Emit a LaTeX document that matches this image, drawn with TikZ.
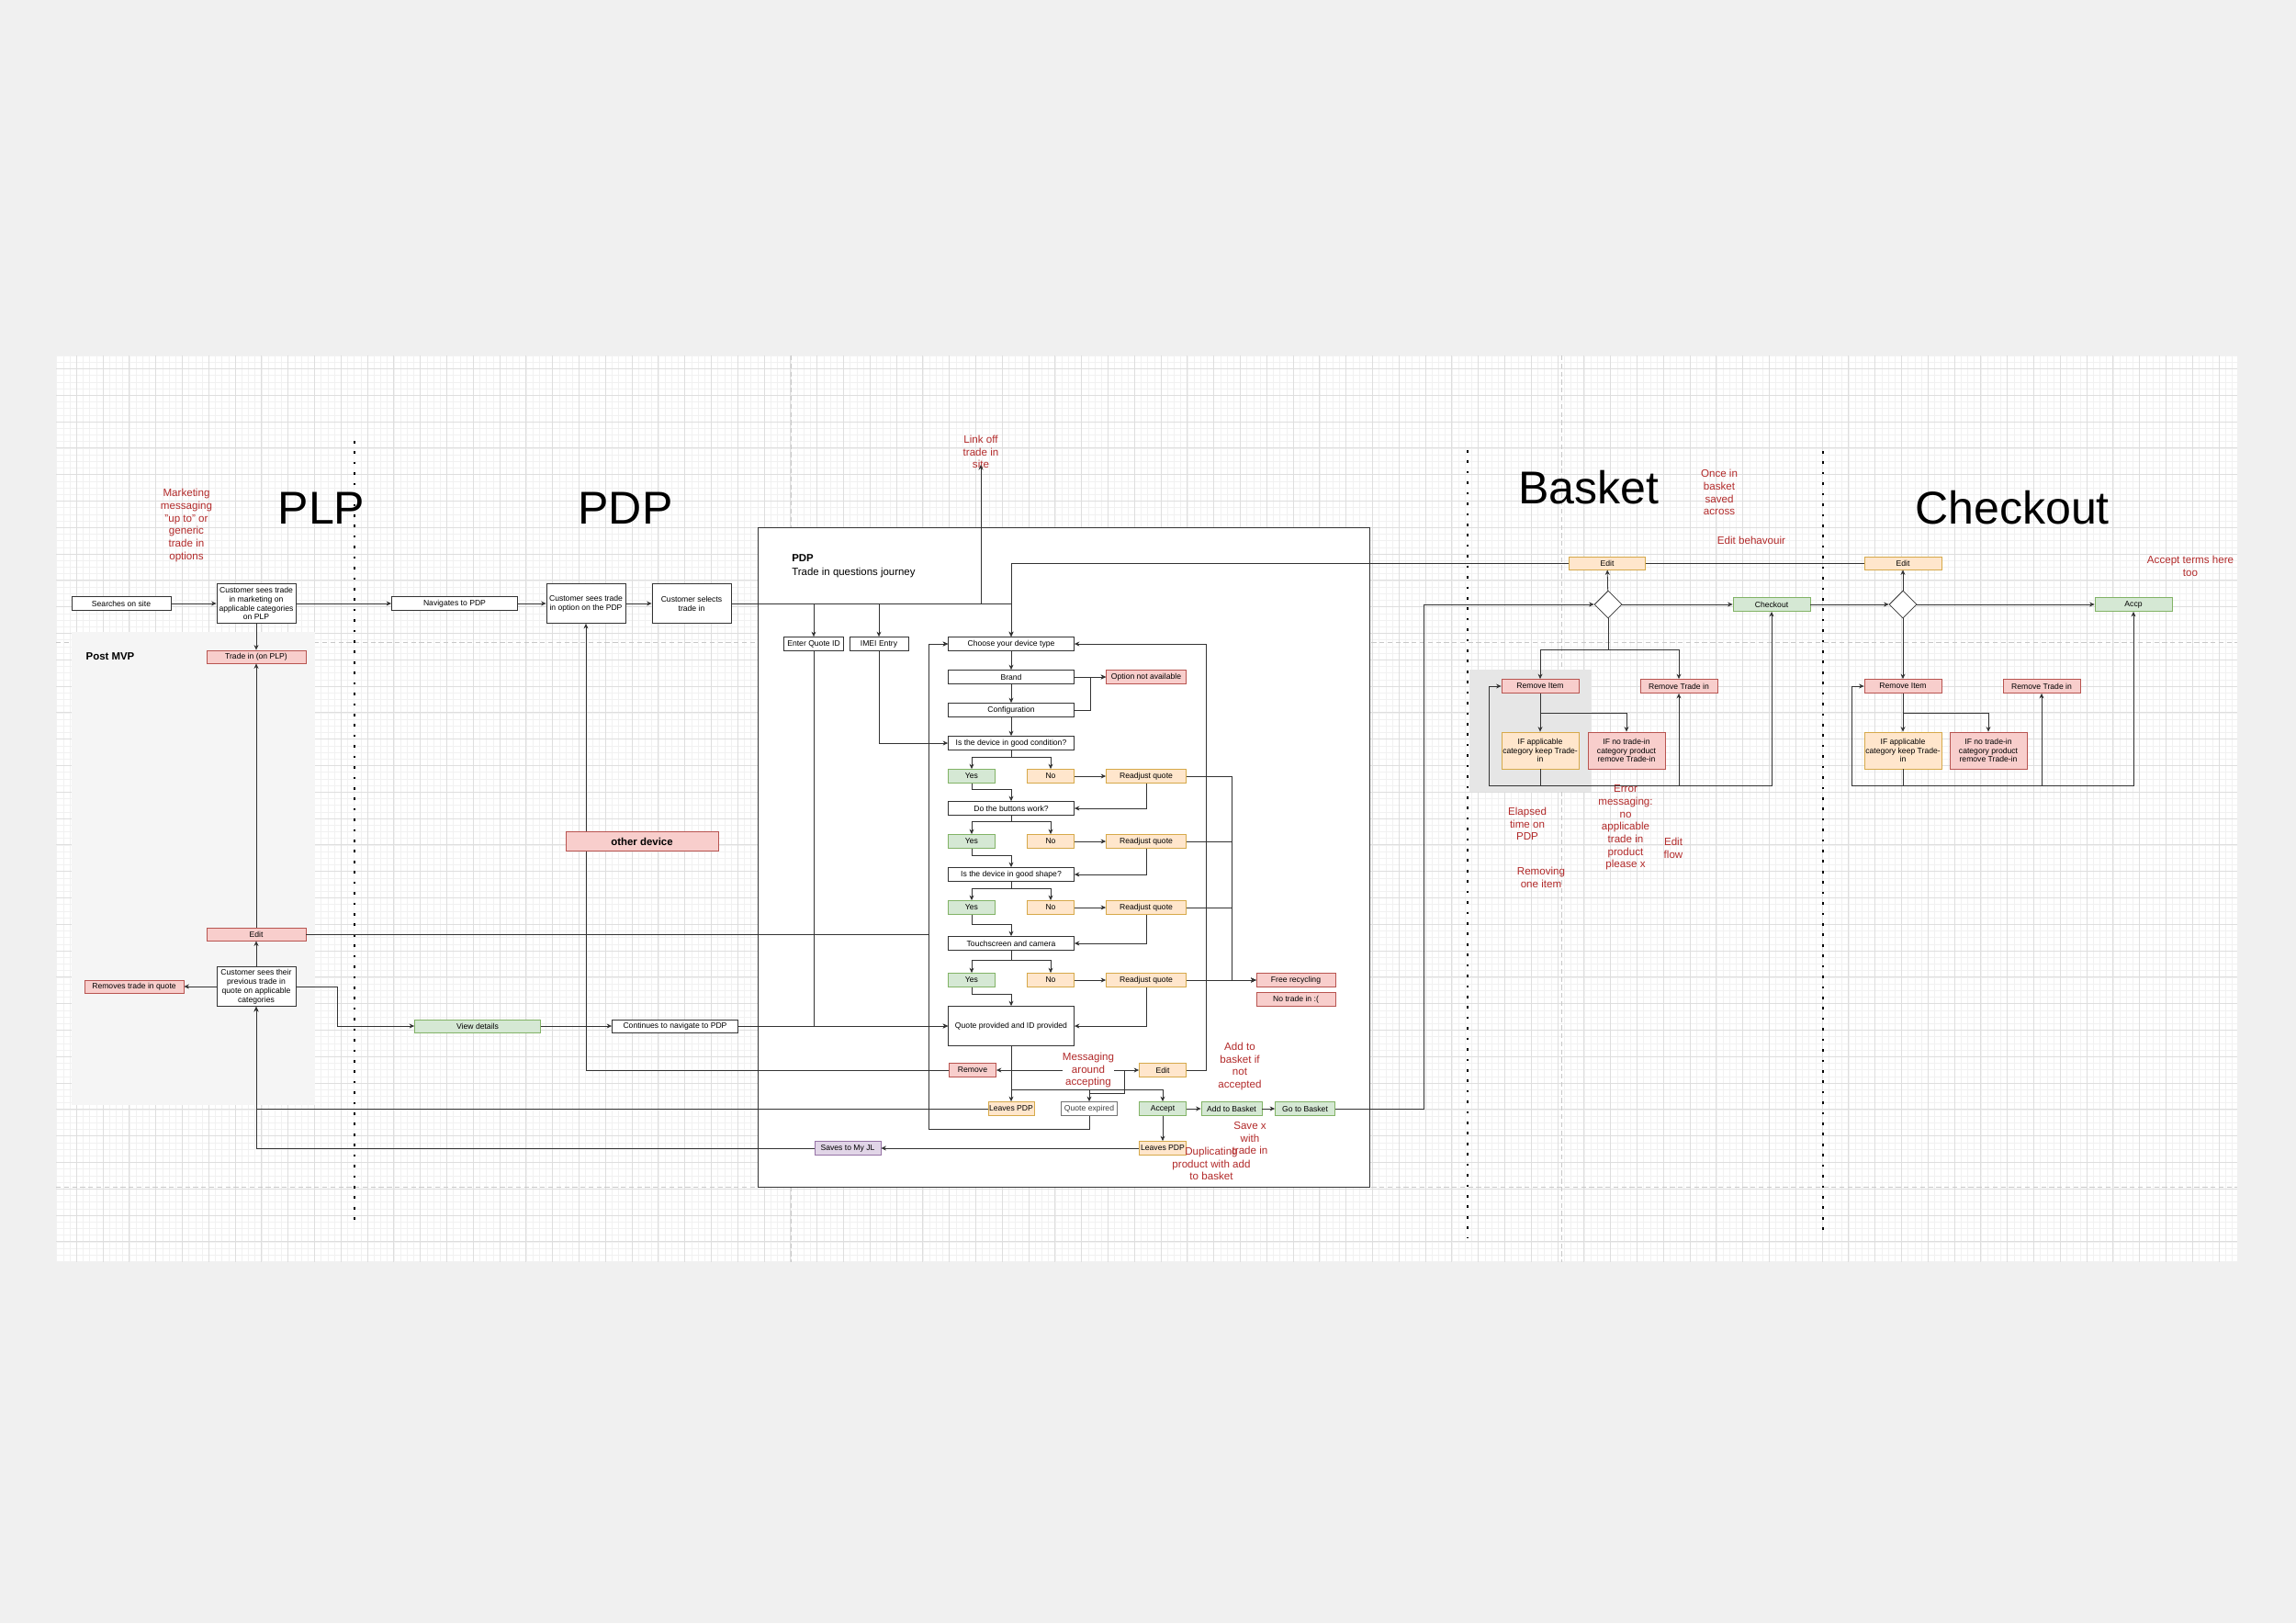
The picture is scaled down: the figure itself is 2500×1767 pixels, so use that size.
\documentclass[tikz,border=0pt]{standalone}
\usepackage{fontspec}
\setmainfont{Liberation Sans}
\usepackage{tikz}
\usetikzlibrary{arrows.meta,calc,shapes.geometric}
\definecolor{bgout}{HTML}{F0F0F0}
\definecolor{gridmaj}{HTML}{DEDEDE}
\definecolor{gridmin}{HTML}{F1F1F1}
\definecolor{pagec}{HTML}{C8C8C8}
\definecolor{tiline}{HTML}{333333}
\definecolor{notered}{HTML}{B22A2A}
\definecolor{redfill}{HTML}{F8CECC}
\definecolor{redline}{HTML}{B85450}
\definecolor{orfill}{HTML}{FFE6CC}
\definecolor{orline}{HTML}{D6A94A}
\definecolor{grfill}{HTML}{D5E8D4}
\definecolor{grline}{HTML}{82B366}
\definecolor{pufill}{HTML}{E1D5E7}
\definecolor{puline}{HTML}{9673A6}
\definecolor{mvpgray}{HTML}{F5F5F5}
\definecolor{areagray}{HTML}{E6E6E6}
\newdimen\dpx
\dpx=0.2mm
\tikzset{
  tibox/.style={draw=tiline,line width=0.45pt,fill=white,align=center,inner sep=0pt,
                minimum width=86*\dpx,minimum height=15*\dpx,font=\fontsize{4.9}{5.6}\selectfont},
  tired/.style={tibox,draw=redline,fill=redfill},
  tiorange/.style={tibox,draw=orline,fill=orfill},
  tigreen/.style={tibox,draw=grline,fill=grfill},
  tipurple/.style={tibox,draw=puline,fill=pufill},
  tigray/.style={tibox,draw=black!55,text=black!75},
  tichoice/.style={diamond,draw=tiline,line width=0.45pt,fill=white,inner sep=0pt,
                   minimum width=30*\dpx,minimum height=30*\dpx},
  tinote/.style={text=notered,align=center,inner sep=0pt,font=\fontsize{6.6}{7.8}\selectfont},
  tititle/.style={inner sep=0pt,font=\fontsize{28.5}{30}\selectfont},
  flow/.style={-{Stealth[length=1.1mm,width=1mm]},line width=0.45pt,draw=tiline},
  wire/.style={line width=0.45pt,draw=tiline},
  pageline/.style={draw=pagec,line width=0.5pt,dash pattern=on 3pt off 2pt},
  lanedots/.style={draw=black,line width=1.5pt,dash pattern=on 1.5pt off 5pt}
}

\begin{document}
\begin{tikzpicture}[x=0.2mm,y=-0.2mm]
  \fill[bgout] (0,0) rectangle (2500,1767);
  \useasboundingbox (0,0) rectangle (2500,1767);
  \fill[white] (61,387) rectangle (2436,1374);
  % grid paper
  \begin{scope}
    \clip (61,387) rectangle (2436,1374);
    \foreach \gi in {-48,...,283} \draw[gridmin,line width=0.3pt] ({400+7.2*\gi},387) -- ++(0,987);
    \foreach \gi in {-30,...,136} \draw[gridmin,line width=0.3pt] (61,{603+7.2*\gi}) -- ++(2375,0);
    \foreach \gi in {-12,...,71} \draw[gridmaj,line width=0.4pt] ({400+28.8*\gi},387) -- ++(0,987);
    \foreach \gi in {-8,...,27} \draw[gridmaj,line width=0.4pt] (61,{603+28.8*\gi}) -- ++(2375,0);
  \end{scope}
  \draw[pageline] (61,699) -- (2436,699);
  \draw[pageline] (61,1292) -- (2436,1292);
  \draw[pageline] (861,387) -- (861,1374);
  \draw[pageline] (1700,387) -- (1700,1374);
  \fill[mvpgray] (78,688) rectangle (343,1203);
  \fill[areagray] (1600,729) rectangle (1733,862);
  \draw[lanedots] (386,480) -- (386,1336);
  \draw[lanedots] (1598,490) -- (1598,1347);
  \draw[lanedots] (1985,491) -- (1985,1347);

  % lane titles and notes
  \node[tititle] (plptitle) at (350,553) {PLP};
  \node[tititle] (pdptitle) at (681,553) {PDP};
  \node[tititle] (baskettitle) at (1730,531) {Basket};
  \node[tititle] (checkouttitle) at (2191,553) {Checkout};
  \node[tinote] (marketing) at (203,572) {Marketing\\messaging\\"up to" or\\generic\\trade in\\options};
  \node[tinote] (link) at (1068,492) {Link off\\trade in\\site};
  \coordinate (linktip) at (1068,506);
  \node[inner sep=0pt,font=\bfseries\fontsize{6.5}{7.5}\selectfont] (mvplabel) at (120,715) {Post MVP};

  % PLP
  \node[tibox,minimum width=108*\dpx] (search) at (132,657) {Searches on site};
  \node[tibox,minimum height=43*\dpx] (plpsee) at (279,657) {Customer sees trade\\in marketing on\\applicable categories\\on PLP};
  \node[tired,minimum width=108*\dpx,minimum height=14*\dpx] (plptrade) at (279,715) {Trade in (on PLP)};
  \node[tired,minimum width=108*\dpx,minimum height=14*\dpx] (mvpedit) at (279,1017) {Edit};
  \node[tibox,minimum height=43*\dpx] (prevquote) at (279,1074) {Customer sees their\\previous trade in\\quote on applicable\\categories};
  \node[tired,minimum width=108*\dpx,minimum height=14*\dpx] (removeq) at (146,1074) {Removes trade in quote};

  % PDP
  \node[tibox,minimum width=137*\dpx] (navpdp) at (495,657) {Navigates to PDP};
  \node[tibox,minimum height=43*\dpx] (pdpsee) at (638,657) {Customer sees trade\\in option on the PDP};
  \node[tibox,minimum height=43*\dpx] (select) at (753,657) {Customer selects\\trade in};
  \node[tigreen,minimum width=137*\dpx,minimum height=14*\dpx] (details) at (520,1117) {View details};
  \node[tibox,minimum width=137*\dpx,minimum height=14*\dpx] (contnav) at (735,1117) {Continues to navigate to PDP};

  % trade in questions journey
  \node[wire,draw,fill=white,inner sep=0pt,minimum width=666*\dpx,minimum height=718*\dpx] (journey) at (1158,933) {};
  \node[anchor=west,align=left,inner sep=0pt,font=\fontsize{6.5}{8.5}\selectfont] (journeyhead) at (862,616) {\textbf{PDP}\\Trade in questions journey};
  \node[tibox,minimum width=65*\dpx] (quoteid) at (886,701) {Enter Quote ID};
  \node[tibox,minimum width=64*\dpx] (imei) at (957,701) {IMEI Entry};
  \node[tibox,minimum width=137*\dpx] (devtype) at (1101,701) {Choose your device type};
  \node[tibox,minimum width=137*\dpx] (brand) at (1101,737) {Brand};
  \node[tired,minimum width=87*\dpx] (noopt) at (1248,737) {Option not available};
  \node[tibox,minimum width=137*\dpx] (config) at (1101,773) {Configuration};
  \node[tibox,minimum width=137*\dpx] (qcond) at (1101,809) {Is the device in good condition?};
  \node[tigreen,minimum width=51*\dpx] (yes1) at (1058,845) {Yes};
  \node[tiorange,minimum width=51*\dpx] (no1) at (1144,845) {No};
  \node[tiorange,minimum width=87*\dpx] (rq1) at (1248,845) {Readjust quote};
  \node[tibox,minimum width=137*\dpx] (qbutton) at (1101,880) {Do the buttons work?};
  \node[tigreen,minimum width=51*\dpx] (yes2) at (1058,916) {Yes};
  \node[tiorange,minimum width=51*\dpx] (no2) at (1144,916) {No};
  \node[tiorange,minimum width=87*\dpx] (rq2) at (1248,916) {Readjust quote};
  \node[tibox,minimum width=137*\dpx] (qshape) at (1101,952) {Is the device in good shape?};
  \node[tigreen,minimum width=51*\dpx] (yes3) at (1058,988) {Yes};
  \node[tiorange,minimum width=51*\dpx] (no3) at (1144,988) {No};
  \node[tiorange,minimum width=87*\dpx] (rq3) at (1248,988) {Readjust quote};
  \node[tibox,minimum width=137*\dpx] (qtouch) at (1101,1027) {Touchscreen and camera};
  \node[tigreen,minimum width=51*\dpx] (yes4) at (1058,1067) {Yes};
  \node[tiorange,minimum width=51*\dpx] (no4) at (1144,1067) {No};
  \node[tiorange,minimum width=87*\dpx] (rq4) at (1248,1067) {Readjust quote};
  \node[tired] (free) at (1411,1067) {Free recycling};
  \node[tired] (notrade) at (1411,1088) {No trade in :(};
  \node[tibox,minimum width=137*\dpx,minimum height=43*\dpx] (qprov) at (1101,1117) {Quote provided and ID provided};
  \node[tired,minimum width=51*\dpx] (remove) at (1059,1165) {Remove};
  \node[tiorange,minimum width=51*\dpx] (pedit) at (1266,1165) {Edit};
  \node[tiorange,minimum width=50*\dpx] (leave1) at (1101,1207) {Leaves PDP};
  \node[tigray,minimum width=61*\dpx] (expired) at (1186,1207) {Quote expired};
  \node[tigreen,minimum width=51*\dpx] (accept) at (1266,1207) {Accept};
  \node[tigreen,minimum width=66*\dpx] (addbasket) at (1341,1207) {Add to Basket};
  \node[tigreen,minimum width=65*\dpx] (gobasket) at (1421,1207) {Go to Basket};
  \node[tiorange,minimum width=51*\dpx] (leave2) at (1266,1250) {Leaves PDP};
  \node[tipurple,minimum width=72*\dpx] (saves) at (923,1250) {Saves to My JL};
  \node[tinote] (ifnot) at (1350,1161) {Add to\\basket if\\not\\accepted};
  \node[tinote] (savex) at (1361,1239) {Save x\\with\\trade in};
  \node[tinote] (duplicate) at (1319,1267) {Duplicating\\product with add\\to basket};

  % basket
  \node[tiorange,minimum width=83*\dpx,minimum height=14*\dpx] (bedit) at (1750,613) {Edit};
  \node[tichoice] (bdia) at (1751,658) {};
  \node[tigreen,minimum width=84*\dpx] (bcheck) at (1929,658) {Checkout};
  \node[tired,minimum width=84*\dpx] (bremitem) at (1677,747) {Remove Item};
  \node[tired,minimum width=84*\dpx] (bremtrade) at (1828,747) {Remove Trade in};
  \node[tiorange,minimum width=84*\dpx,minimum height=40*\dpx] (bkeep) at (1677,817) {IF applicable\\category keep Trade-\\in};
  \node[tired,minimum width=84*\dpx,minimum height=40*\dpx] (bnotrade) at (1771,817) {IF no trade-in\\category product\\remove Trade-in};
  \node[tinote] (onceinbasket) at (1872,536) {Once in\\basket\\saved\\across};
  \node[tinote] (editbehav) at (1907,588) {Edit behavouir};
  \node[tinote] (elapsed) at (1663,897) {Elapsed\\time on\\PDP};
  \node[tinote] (removing) at (1678,955) {Removing\\one item};
  \node[tinote] (errormsg) at (1770,901) {Error\\messaging:\\no\\applicable\\trade in\\product\\please x};
  \node[tinote] (editflow) at (1822,923) {Edit\\flow};

  % checkout
  \node[tiorange,minimum width=84*\dpx,minimum height=14*\dpx] (cedit) at (2072,613) {Edit};
  \node[tichoice] (cdia) at (2072,658) {};
  \node[tigreen,minimum width=84*\dpx] (caccp) at (2323,658) {Accp};
  \node[tired,minimum width=84*\dpx] (cremitem) at (2072,747) {Remove Item};
  \node[tired,minimum width=84*\dpx] (cremtrade) at (2223,747) {Remove Trade in};
  \node[tiorange,minimum width=84*\dpx,minimum height=40*\dpx] (ckeep) at (2072,817) {IF applicable\\category keep Trade-\\in};
  \node[tired,minimum width=84*\dpx,minimum height=40*\dpx] (cnotrade) at (2165,817) {IF no trade-in\\category product\\remove Trade-in};
  \node[tinote] (acceptterms) at (2385,616) {Accept terms here\\too};

  % PLP and PDP flow
  \draw[flow] (search) -- (plpsee);
  \draw[flow] (plpsee) -- (navpdp);
  \draw[flow] (plpsee) -- (plptrade);
  \draw[flow] (prevquote) -- (mvpedit);
  \draw[flow] (mvpedit) -- (plptrade);
  \draw[flow] (prevquote) -- (removeq);
  \draw[flow] (prevquote.east) -- (367,1074) |- (details.west);
  \draw[flow] (details) -- (contnav);
  \draw[flow] (contnav) -- (qprov);
  \draw[flow] (navpdp) -- (pdpsee);
  \draw[flow] (pdpsee) -- (select);
  \draw[flow] (select.east) -| (linktip);
  \draw[flow] (select.east) -| (quoteid.north);
  \draw[flow] (select.east) -| (imei.north);
  \draw[flow] (select.east) -| (devtype.north);
  \draw[flow] (quoteid.south) |- (qprov.west);
  \draw[flow] (imei.south) |- (qcond.west);
  \draw[flow] (mvpedit.east) -- (1011,1017) |- (devtype.west);
  \draw[flow] (remove.west) -| (pdpsee.south);
  \node[tired,minimum width=166*\dpx,minimum height=21*\dpx,font=\bfseries\fontsize{6.5}{7.5}\selectfont] (otherdev) at (699,916) {other device};

  % questions
  \draw[flow] (devtype) -- (brand);
  \draw[flow] (brand) -- (config);
  \draw[flow] (config) -- (qcond);
  \draw[flow] (brand) -- (noopt);
  \draw[flow] (config.east) -- (1187,773) |- (noopt.west);
  \draw[flow] (qcond.south) -- ++(0,7) -| (yes1.north);
  \draw[flow] (qcond.south) -- ++(0,7) -| (no1.north);
  \draw[flow] (yes1.south) -- ++(0,6) -| (qbutton.north);
  \draw[flow] (qbutton.south) -- ++(0,6) -| (yes2.north);
  \draw[flow] (qbutton.south) -- ++(0,6) -| (no2.north);
  \draw[flow] (yes2.south) -- ++(0,7) -| (qshape.north);
  \draw[flow] (qshape.south) -- ++(0,7) -| (yes3.north);
  \draw[flow] (qshape.south) -- ++(0,7) -| (no3.north);
  \draw[flow] (yes3.south) -- ++(0,10) -| (qtouch.north);
  \draw[flow] (qtouch.south) -- ++(0,10) -| (yes4.north);
  \draw[flow] (qtouch.south) -- ++(0,10) -| (no4.north);
  \draw[flow] (yes4.south) -- ++(0,7) -| (qprov.north);
  \draw[flow] (no1) -- (rq1);
  \draw[flow] (no2) -- (rq2);
  \draw[flow] (no3) -- (rq3);
  \draw[flow] (no4) -- (rq4);
  \draw[flow] (rq1.south) |- (qbutton.east);
  \draw[flow] (rq2.south) |- (qshape.east);
  \draw[flow] (rq3.south) |- (qtouch.east);
  \draw[flow] (rq4.south) |- (qprov.east);
  \draw[flow] (rq1.east) -- (1341,845) |- (free.west);
  \draw[flow] (rq2.east) -- (1341,916) |- (free.west);
  \draw[flow] (rq3.east) -- (1341,988) |- (free.west);
  \draw[flow] (rq4) -- (free);

  % quote outcome
  \draw[flow] (qprov) -- (leave1);
  \draw[flow] (qprov.south) -- (1101,1186) -| (accept.north);
  \draw[flow] (qprov.south) -- (1101,1186) -| (expired.north);
  \draw[flow] (qprov.south) -- (1101,1186) -| (1186,1190) -| (1224,1165) -- (pedit.west);
  \draw[flow] ($(pedit.west)+(-16,0)$) -- (remove.east);
  \node[tinote,fill=white] (accepting) at (1185,1165) {Messaging\\around\\accepting};
  \draw[flow] (expired.south) -- (1186,1229) -- (1011,1229) |- (devtype.west);
  \draw[flow] (pedit.east) -- (1313,1165) |- (devtype.east);
  \draw[flow] (leave1.west) -| (prevquote.south);
  \draw[flow] (accept) -- (addbasket);
  \draw[flow] (addbasket) -- (gobasket);
  \draw[flow] (accept) -- (leave2);
  \draw[flow] (leave2) -- (saves);
  \draw[flow] (saves.west) -| (prevquote.south);
  \draw[flow] (gobasket.east) -- (1550,1207) |- (bdia.west);

  % basket
  \draw[flow] (bedit.west) -| (devtype.north);
  \draw[wire] (cedit.west) -- (bedit.east);
  \draw[flow] (bdia) -- (bedit);
  \draw[flow] (bdia) -- (bcheck);
  \draw[flow] (bdia.south) -- (1751,707) -| (bremitem.north);
  \draw[flow] (bdia.south) -- (1751,707) -| (bremtrade.north);
  \draw[flow] (bremitem) -- (bkeep);
  \draw[flow] (bremitem.south) -- (1677,776) -| (bnotrade.north);
  \draw[flow] (bkeep.south) -- (1677,855) -- (1621,855) |- (bremitem.west);
  \draw[flow] (bkeep.south) -- (1677,855) -| (bremtrade.south);
  \draw[flow] (bkeep.south) -- (1677,855) -| (bcheck.south);
  \draw[flow] (bcheck) -- (cdia);

  % checkout
  \draw[flow] (cdia) -- (cedit);
  \draw[flow] (cdia) -- (caccp);
  \draw[flow] (cdia) -- (cremitem);
  \draw[flow] (cremitem) -- (ckeep);
  \draw[flow] (cremitem.south) -- (2072,776) -| (cnotrade.north);
  \draw[flow] (ckeep.south) -- (2072,855) -- (2016,855) |- (cremitem.west);
  \draw[flow] (ckeep.south) -- (2072,855) -| (cremtrade.south);
  \draw[flow] (ckeep.south) -- (2072,855) -| (caccp.south);
\end{tikzpicture}
\end{document}
